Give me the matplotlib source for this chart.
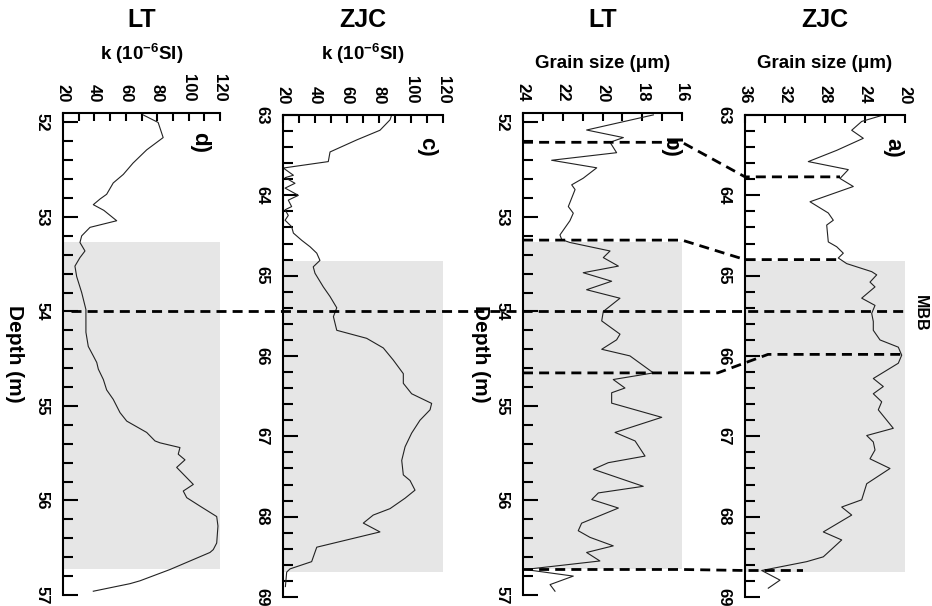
import matplotlib
matplotlib.use('Agg')
import matplotlib.pyplot as plt
from matplotlib.lines import Line2D
from matplotlib.ticker import MultipleLocator
from matplotlib.transforms import blended_transform_factory

plt.rcParams['font.family'] = ['Liberation Sans', 'DejaVu Sans']
plt.rcParams['font.weight'] = 'bold'
plt.rcParams['mathtext.fontset'] = 'custom'
plt.rcParams['mathtext.rm'] = 'Liberation Sans:bold'
plt.rcParams['mathtext.it'] = 'Liberation Sans:bold'
plt.rcParams['mathtext.bf'] = 'Liberation Sans:bold'
plt.rcParams['mathtext.default'] = 'rm'

# ---------------- data ----------------
# d) LT magnetic susceptibility
depth_d = [51.92, 52.00, 52.16, 52.29, 52.43, 52.55, 52.64, 52.76, 52.81, 52.87,
           52.93, 53.04, 53.11, 53.20, 53.27, 53.36, 53.43, 53.52, 53.63, 53.80,
           53.98, 54.22, 54.37, 54.47, 54.54, 54.61, 54.72, 54.83, 54.93, 55.07,
           55.16, 55.28, 55.37, 55.39, 55.44, 55.51, 55.57, 55.65, 55.83, 55.90,
           55.97, 56.06, 56.17, 56.27, 56.45, 56.52, 56.55, 56.64, 56.73, 56.85,
           56.88, 56.96]
k_lt = [71.0, 80.6, 83.8, 73.3, 64.6, 58.4, 52.0, 47.8, 43.6, 39.3,
        46.0, 54.2, 37.2, 31.9, 30.8, 34.0, 30.8, 27.6, 28.7, 31.9,
        34.6, 34.6, 36.1, 39.3, 41.5, 42.5, 45.7, 47.8, 52.0, 56.3,
        60.6, 73.3, 78.6, 81.8, 94.5, 93.4, 97.7, 92.4, 103.0, 96.6,
        98.8, 107.3, 117.9, 118.7, 117.9, 115.7, 113.6, 100.9, 88.2, 69.0,
        62.7, 39.3]

# c) ZJC magnetic susceptibility
depth_c = [63.00, 63.06, 63.19, 63.31, 63.46, 63.58, 63.66, 63.75, 63.78, 63.85,
           63.91, 64.00, 64.06, 64.14, 64.18, 64.25, 64.31, 64.39, 64.47, 64.56,
           64.64, 64.72, 64.81, 64.89, 64.97, 65.14, 65.26, 65.40, 65.51, 65.68,
           65.78, 65.90, 66.05, 66.22, 66.34, 66.47, 66.59, 66.67, 66.80, 66.96,
           67.13, 67.30, 67.48, 67.55, 67.67, 67.77, 67.90, 67.98, 68.08, 68.19,
           68.38, 68.56, 68.65, 68.69, 68.87]
k_zjc = [87.9, 86.9, 80.6, 66.1, 49.4, 48.3, 20.2, 26.5, 21.3, 27.5,
         21.3, 29.6, 23.3, 25.4, 21.3, 23.3, 21.3, 25.4, 26.5, 31.7,
         36.9, 41.1, 43.1, 38.9, 40.0, 45.2, 49.4, 53.6, 51.5, 53.6,
         72.3, 82.7, 88.9, 95.2, 95.2, 100.4, 112.9, 111.9, 105.6, 100.4,
         96.3, 94.2, 95.2, 99.4, 102.5, 96.3, 86.9, 76.4, 70.2, 80.6,
         41.1, 37.9, 24.4, 22.3, 21.5]

# b) LT grain size
depth_b = [51.92, 52.08, 52.16, 52.21, 52.32, 52.40, 52.48, 52.59, 52.66, 52.71,
           52.80, 52.89, 52.96, 53.04, 53.19, 53.24, 53.27, 53.36, 53.43, 53.52,
           53.59, 53.68, 53.77, 53.86, 54.00, 54.10, 54.24, 54.30, 54.40, 54.47,
           54.65, 54.72, 54.81, 54.86, 54.97, 55.12, 55.28, 55.37, 55.53, 55.60,
           55.67, 55.85, 55.92, 55.99, 56.08, 56.24, 56.32, 56.39, 56.48, 56.55,
           56.64, 56.73, 56.80, 56.89, 56.96]
gs_lt = [17.44, 20.80, 18.95, 19.62, 19.29, 22.56, 20.29, 20.97, 21.55, 21.38,
         21.55, 21.72, 21.47, 21.64, 22.14, 22.05, 21.64, 19.62, 19.96, 19.20,
         20.97, 19.54, 20.80, 19.12, 19.96, 20.04, 19.12, 19.29, 20.04, 18.62,
         17.44, 19.46, 18.87, 19.54, 19.54, 17.02, 19.37, 18.36, 17.86, 19.71,
         20.46, 17.95, 20.21, 20.54, 19.20, 21.05, 21.22, 20.63, 19.46, 20.80,
         20.13, 23.90, 21.47, 22.64, 22.39]

# a) ZJC grain size
depth_a = [63.00, 63.08, 63.19, 63.29, 63.44, 63.58, 63.68, 63.79, 63.89, 64.08,
           64.22, 64.31, 64.37, 64.58, 64.64, 64.72, 64.78, 64.85, 64.95, 64.99,
           65.08, 65.14, 65.28, 65.37, 65.47, 65.57, 65.68, 65.80, 65.89, 65.99,
           66.09, 66.28, 66.38, 66.47, 66.57, 66.67, 66.90, 66.99, 67.07, 67.17,
           67.28, 67.40, 67.59, 67.79, 67.88, 67.98, 68.19, 68.29, 68.50, 68.56,
           68.67, 68.79, 68.89]
gs_zjc = [22.17, 24.33, 25.33, 24.17, 26.83, 29.67, 25.67, 26.50, 25.17, 29.50,
          27.67, 27.17, 27.83, 27.67, 26.83, 26.17, 26.67, 25.83, 23.33, 22.83,
          23.50, 23.00, 24.33, 23.00, 23.33, 23.17, 23.17, 22.50, 20.67, 20.33,
          20.67, 23.17, 22.17, 23.17, 22.33, 22.67, 21.17, 23.83, 23.17, 23.00,
          23.50, 21.50, 23.83, 24.33, 26.33, 25.33, 28.17, 26.33, 28.17, 29.83,
          34.33, 32.50, 33.67]

# shaded intervals (depth top, depth bottom)
shade_lt = [53.26, 56.73]
shade_zjc = [64.82, 68.69]

# MBB depth (LT scale)
mbb_lt = 54.0

# tie lines between b) and a)
tie_b_depth = [52.21, 53.245, 54.65, 56.73]
tie_b_end = [16.0, 16.0, 14.2, 16.0]
tie_a_depth = [63.77, 64.80, 65.98, 68.67]
tie_a_start = [36.0, 36.0, 33.7, 36.0]
tie_a_end = [26.5, 26.3, 20.3, 30.2]

# ---------------- figure ----------------
W, H = 932, 606
fig = plt.figure(figsize=(W / 100, H / 100), dpi=100)


def px_axes(left, right, top, bottom):
    return [left / W, 1 - bottom / H, (right - left) / W, (bottom - top) / H]


ax_d = fig.add_axes(px_axes(63, 220, 113, 595))
ax_c = fig.add_axes(px_axes(283, 443, 115, 597))
ax_b = fig.add_axes(px_axes(523, 682, 113, 595))
ax_a = fig.add_axes(px_axes(745, 905, 115, 597))

LINE_COL = '#222222'
SHADE_COL = '#e6e6e6'


def style(ax, xlim, xmaj, xmin_, ylim):
    ax.set_facecolor('none')
    ax.set_xlim(*xlim)
    ax.set_ylim(*ylim)
    for s in ['right', 'bottom']:
        ax.spines[s].set_visible(False)
    for s in ['left', 'top']:
        ax.spines[s].set_linewidth(1.5)
    ax.xaxis.tick_top()
    ax.xaxis.set_major_locator(MultipleLocator(xmaj))
    ax.xaxis.set_minor_locator(MultipleLocator(xmin_))
    ax.yaxis.set_major_locator(MultipleLocator(1))
    ax.yaxis.set_minor_locator(MultipleLocator(0.2))
    ax.tick_params(axis='x', which='both', direction='in', length=6, width=1.5,
                   top=True, bottom=False, labeltop=True, labelbottom=False,
                   labelsize=12, labelrotation=-90, pad=8)
    ax.tick_params(axis='y', which='major', direction='in', length=11, width=1.5,
                   left=True, right=False, labelsize=12, labelrotation=-90, pad=10)
    ax.tick_params(axis='y', which='minor', direction='in', length=7, width=1.5,
                   left=True, right=False)
    for t in ax.get_yticklabels():
        t.set_verticalalignment('center')


style(ax_d, (20, 120), 20, 10, (57, 51.9))
style(ax_c, (20, 120), 20, 10, (69, 63))
style(ax_b, (24, 16), 2, 1, (57, 51.9))
style(ax_a, (36, 20), 4, 2, (69, 63))

ax_d.axhspan(shade_lt[0], shade_lt[1], color=SHADE_COL, lw=0, zorder=0)
ax_b.axhspan(shade_lt[0], shade_lt[1], color=SHADE_COL, lw=0, zorder=0)
ax_c.axhspan(shade_zjc[0], shade_zjc[1], color=SHADE_COL, lw=0, zorder=0)
ax_a.axhspan(shade_zjc[0], shade_zjc[1], color=SHADE_COL, lw=0, zorder=0)

ax_d.plot(k_lt, depth_d, color=LINE_COL, lw=0.8)
ax_c.plot(k_zjc, depth_c, color=LINE_COL, lw=0.8)
ax_b.plot(gs_lt, depth_b, color=LINE_COL, lw=0.8)
ax_a.plot(gs_zjc, depth_a, color=LINE_COL, lw=0.8)

for ax, xf in [(ax_d, -0.31), (ax_b, -0.27)]:
    ax.set_ylabel('Depth (m)', rotation=-90, fontsize=15, fontweight='bold',
                  va='center', ha='center')
    ax.yaxis.set_label_coords(xf, 0.5)

for ax, lab, xf, yf in [(ax_d, 'd)', 0.873, 0.938), (ax_c, 'c)', 0.90, 0.934),
                        (ax_b, 'b)', 0.925, 0.929), (ax_a, 'a)', 0.925, 0.932)]:
    ax.text(xf, yf, lab, transform=ax.transAxes, rotation=-90, fontsize=16,
            fontweight='bold', ha='center', va='center')

# titles and axis labels
for ax, title, xlabel, lab_base in [(ax_d, 'LT', r'k (10$^{-6}$SI)', 60),
                                   (ax_c, 'ZJC', r'k (10$^{-6}$SI)', 60),
                                   (ax_b, 'LT', 'Grain size (μm)', 68),
                                   (ax_a, 'ZJC', 'Grain size (μm)', 68)]:
    pos = ax.get_position()
    xc = pos.x0 + pos.width / 2
    fig.text(xc, 1 - 27 / H, title, fontsize=18, fontweight='bold',
             ha='center', va='baseline')
    fig.text(xc, 1 - lab_base / H, xlabel, fontsize=13.5, fontweight='bold',
             ha='center', va='baseline')

# MBB dashed line across all panels (from panel d's axis to panel a's right edge)
trans = blended_transform_factory(fig.transFigure, ax_d.transData)
x0 = ax_d.get_position().x0
x1 = ax_a.get_position().x1
fig.add_artist(Line2D([x0 + 8 / W, x1], [mbb_lt, mbb_lt], transform=trans,
                      color='black', lw=2, dashes=[3.6, 2.2], zorder=5))
fig.text(920 / W, 1 - 313 / H, 'MBB', rotation=-90, fontsize=11.5,
         fontweight='bold', ha='center', va='center')

# tie lines b) -> a)
inv = fig.transFigure.inverted()


def to_fig(ax, x, y):
    return inv.transform(ax.transData.transform((x, y)))


for bd, be, ad, as_, ae in zip(tie_b_depth, tie_b_end, tie_a_depth,
                               tie_a_start, tie_a_end):
    pts = [to_fig(ax_b, 24, bd), to_fig(ax_b, be, bd),
           to_fig(ax_a, as_, ad), to_fig(ax_a, ae, ad)]
    xs = [p[0] for p in pts]
    ys = [p[1] for p in pts]
    fig.add_artist(Line2D(xs, ys, transform=fig.transFigure, color='black',
                          lw=2, dashes=[3.6, 2.2], zorder=5))

fig.savefig('out.png', dpi=100)
